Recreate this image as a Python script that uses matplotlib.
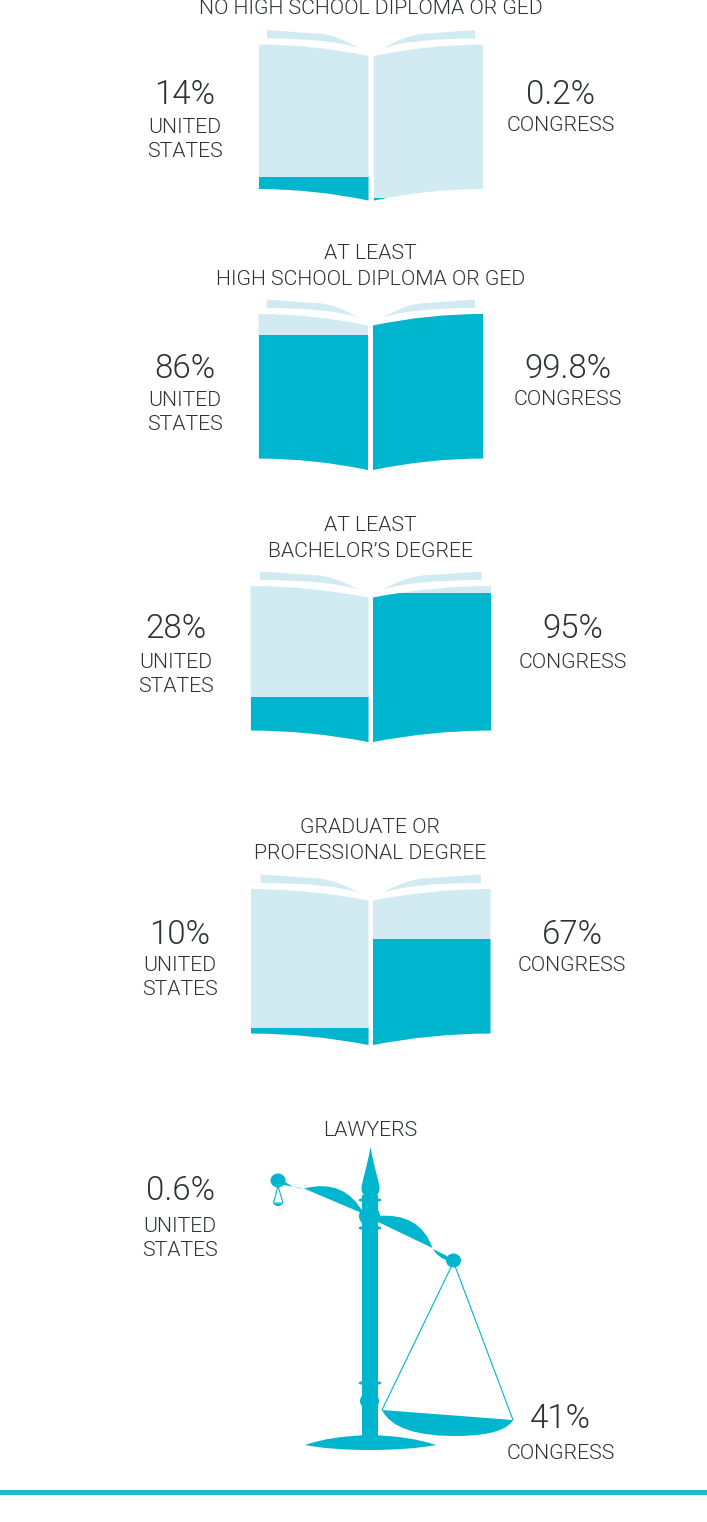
import numpy as np
import matplotlib
matplotlib.use("Agg")
import matplotlib.pyplot as plt
from matplotlib.patches import PathPatch, Rectangle, Ellipse
from matplotlib.path import Path

plt.rcParams['font.family'] = ['Roboto', 'DejaVu Sans']

titles = [["NO HIGH SCHOOL DIPLOMA OR GED"],
          ["AT LEAST", "HIGH SCHOOL DIPLOMA OR GED"],
          ["AT LEAST", "BACHELOR\u2019S DEGREE"],
          ["GRADUATE OR", "PROFESSIONAL DEGREE"]]
us_values = [14, 86, 28, 10]
congress_values = [0.2, 99.8, 95, 67]
lawyer_title = "LAWYERS"
lawyer_us = 0.6
lawyer_congress = 41

TEAL = "#00B5CE"
LIGHT = "#D2EBF2"
TXT = "#2f3234"
LINE = "#1FB6CE"

# layout: outer-left, gutter-left, gutter-right, outer-right, top
books = [(259, 368.5, 374, 483, 44.5), (258.5, 368, 373, 483, 314),
         (250.5, 368.5, 373, 491, 586), (251, 368.5, 373, 490.5, 889)]
title_y = [[8.5], [253.5, 279.5], [525.5, 551.5], [827.5, 853.5]]
left_x = [184.5, 184.5, 176, 180]
right_x = [560.5, 567.5, 572.5, 572]
pct_y = [95.5, 368.5, 629.5, 934.5]
word_y = [[127.5, 151.5], [400.5, 424.5], [662.5, 686.5], [965.5, 989.5]]
right_word_y = [125.5, 399.5, 662.5, 965.5]

fig = plt.figure(figsize=(7.07, 15.22), dpi=100)
ax = fig.add_axes([0, 0, 1, 1])
ax.set_xlim(0, 707)
ax.set_ylim(1522, 0)
ax.axis("off")

SMALL = 21.3 * 0.72
BIG = 33 * 0.72


def label(x, y, s, size=SMALL):
    ax.text(x, y, s, ha="center", va="center", fontsize=size, color=TXT,
            fontweight=300, clip_on=False)


def page_path(xo, xg, top):
    """Page outline; xo outer edge, xg gutter edge."""
    d = xg - xo
    H, dip = 144.5, 11.5
    v = [(xo, top), (xo + .5 * d, top), (xg, top + dip),
         (xg, top + H + dip), (xo + .5 * d, top + H), (xo, top + H), (xo, top)]
    c = [Path.MOVETO, Path.CURVE3, Path.CURVE3, Path.LINETO,
         Path.CURVE3, Path.CURVE3, Path.CLOSEPOLY]
    return Path(v, c)


def back_path(xo, xa, top):
    d = xa - xo
    v = [(xo, top), (xo + .6 * d, top + 4), (xo + .78 * d, top + 6), (xa, top + 18),
         (xo + .7 * d, top + 8.5), (xo, top + 8.5), (xo, top)]
    c = [Path.MOVETO, Path.LINETO, Path.CURVE3, Path.CURVE3,
         Path.CURVE3, Path.CURVE3, Path.CLOSEPOLY]
    return Path(v, c)


def page(xo, xg, top, value):
    patch = PathPatch(page_path(xo, xg, top), fc=LIGHT, ec="none", zorder=2)
    ax.add_patch(patch)
    bottom = top + 154
    h = 155 * value / 100
    bar = Rectangle((min(xo, xg), bottom - h), abs(xg - xo), h + 3, fc=TEAL, ec="none", zorder=3)
    ax.add_patch(bar)
    bar.set_clip_path(patch)


for i, t in enumerate(titles):
    xl, gl, gr, xr, top = books[i]
    inset = 8 if i < 2 else 9.5
    ax.add_patch(PathPatch(back_path(xl + inset, gl - 10, top - 14.5), fc=LIGHT, ec="none", zorder=1))
    ax.add_patch(PathPatch(back_path(xr - inset, gr + 10, top - 14.5), fc=LIGHT, ec="none", zorder=1))
    page(xl, gl, top, us_values[i])
    page(xr, gr, top, congress_values[i])
    for s, y in zip(t, title_y[i]):
        label(370.5, y, s)
    label(left_x[i], pct_y[i], f"{us_values[i]:g}%", BIG)
    label(left_x[i], word_y[i][0], "UNITED")
    label(left_x[i], word_y[i][1], "STATES")
    label(right_x[i], pct_y[i], f"{congress_values[i]:g}%", BIG)
    label(right_x[i], right_word_y[i], "CONGRESS")

# Scale of justice
label(370, 1130.5, lawyer_title)
label(180, 1191.5, f"{lawyer_us:g}%", BIG)
label(180, 1226.5, "UNITED")
label(180, 1250.5, "STATES")
label(560.5, 1419.5, f"{lawyer_congress:g}%", BIG)
label(561, 1453.5, "CONGRESS")


def shape(verts, codes):
    ax.add_patch(PathPatch(Path(verts, codes), fc=TEAL, ec="none", zorder=3))


M, L, C3, C4, Z = Path.MOVETO, Path.LINETO, Path.CURVE3, Path.CURVE4, Path.CLOSEPOLY
# pole
ax.add_patch(Rectangle((362, 1195), 15.5, 245, fc=TEAL, ec="none", zorder=3))
# spear
shape([(370.5, 1147), (366, 1172), (361.5, 1182), (361.5, 1189), (361.5, 1194), (366, 1198), (370.5, 1198),
       (375, 1198), (379.5, 1194), (379.5, 1189), (379.5, 1182), (375, 1172), (370.5, 1147)],
      [M, C4, C4, C4, C4, C4, C4, C4, C4, C4, C4, C4, C4])
# collars and knobs
for cy, hw, hh in [(1200, 11.5, 2.4), (1228, 11.5, 2.4), (1383, 11.5, 2.4)]:
    ax.add_patch(Ellipse((370, cy), 2 * hw, 2 * hh, fc=TEAL, ec="none", zorder=3))
ax.add_patch(Ellipse((369.5, 1216), 21, 20, fc=TEAL, ec="none", zorder=3))
ax.add_patch(Ellipse((369.5, 1401), 19, 17, fc=TEAL, ec="none", zorder=3))
# base
shape([(305, 1445), (330, 1436), (370, 1435), (410, 1436), (436, 1445), (410, 1450), (370, 1450), (330, 1450), (305, 1445)],
      [M, C3, C3, C3, C3, C3, C3, C3, C3])
# beam
ax.add_patch(Ellipse((278, 1180.5), 15, 14, fc=TEAL, ec="none", zorder=3))
ax.add_patch(Ellipse((453.5, 1260.5), 15, 14, fc=TEAL, ec="none", zorder=3))
shape([(284, 1181), (293, 1188.5), (303, 1188.5), (284, 1185), (284, 1181)], [M, C3, C3, L, Z])
shape([(304, 1188.5), (345, 1178), (364, 1214), (304, 1188.5)], [M, C3, C3, Z])
shape([(376, 1216), (420, 1212), (432.5, 1248), (376, 1221), (376, 1216)], [M, C3, C3, L, Z])
shape([(433, 1249), (438, 1258), (449, 1261), (447, 1256), (433, 1249)], [M, C3, C3, L, Z])
# small pan
ax.plot([278, 273.5, 283, 278], [1186, 1203, 1203, 1186], color=TEAL, lw=0.8, zorder=3)
shape([(273, 1203.5), (278, 1209), (283, 1203.5), (273, 1203.5)], [M, C3, C3, Z])
# large pan
ax.plot([382, 453.5, 513], [1410, 1262, 1420], color=TEAL, lw=0.8, zorder=3)
shape([(382, 1410), (395, 1437), (460, 1436), (505, 1435), (513, 1420), (382, 1410)], [M, C3, C3, C3, C3, Z])

# rule
ax.add_patch(Rectangle((0, 1489.5), 707, 5, fc=LINE, ec="none"))

fig.savefig("out.png", dpi=100)
